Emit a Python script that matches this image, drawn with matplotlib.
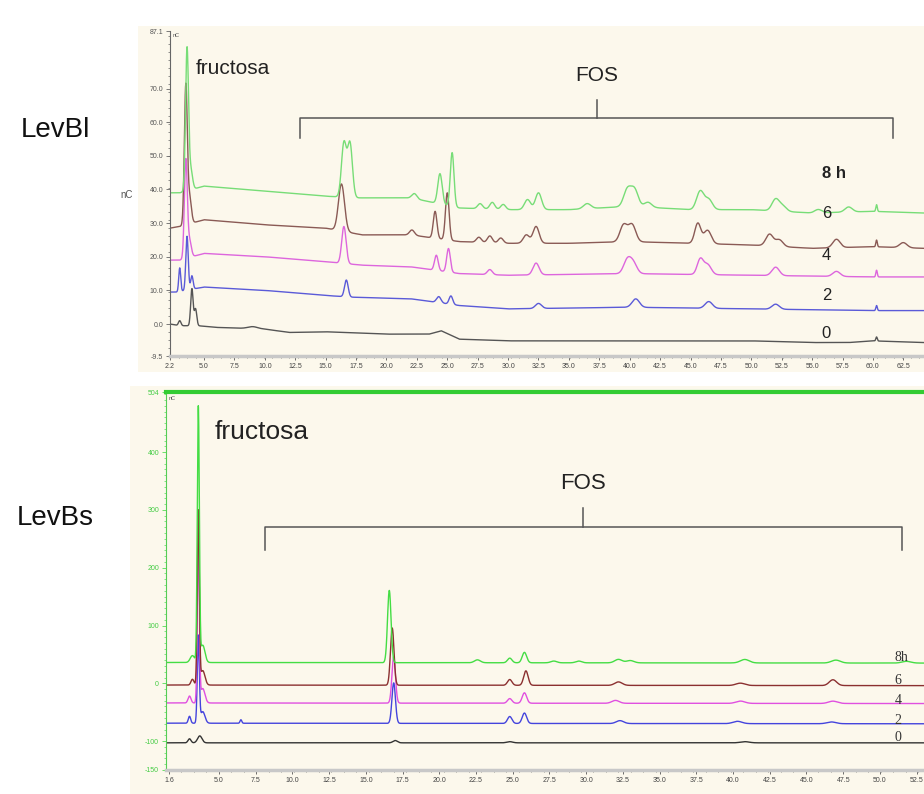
import matplotlib.pyplot as plt
import matplotlib.patches as mpatches
import numpy as np

plt.rcParams['font.family'] = ['Liberation Sans', 'DejaVu Sans']

CREAM = '#fcf8ec'

# ---------------- LevBl (top) ----------------
top_hours = ['0', '2', '4', '6', '8 h']
top_colors = ['#555555', '#5a5ad8', '#dd66dd', '#8a5a55', '#77dd77']

# baseline knots (time min, nC)
top_base_t = [
    [2.2, 3.0, 4.5, 6.0, 10.0, 12.0, 15.0, 20.0, 23.5, 24.5, 26.0, 30.0, 40.0, 50.0, 55.0, 58.0, 60.0, 64.2],
    [2.2, 2.7, 5.0, 10.0, 15.0, 17.0, 22.0, 26.0, 30.0, 40.0, 50.0, 60.0, 64.2],
    [2.2, 3.0, 5.0, 10.0, 15.0, 18.0, 22.0, 26.0, 30.0, 40.0, 50.0, 60.0, 64.2],
    [2.2, 3.0, 5.0, 10.0, 15.0, 18.0, 22.0, 26.0, 30.0, 35.0, 40.0, 45.0, 50.0, 55.0, 60.0, 64.2],
    [2.2, 3.0, 5.0, 10.0, 15.0, 17.5, 22.0, 26.0, 30.0, 35.0, 40.0, 45.0, 50.0, 55.0, 60.0, 64.2],
]
top_base_y = [
    [0.0, -0.5, -0.5, -1.0, -1.5, -2.5, -2.3, -3.0, -3.0, -2.0, -4.5, -5.0, -5.0, -5.0, -5.5, -5.5, -5.0, -5.5],
    [9.5, 9.5, 11.0, 10.0, 8.5, 8.0, 7.5, 5.5, 4.5, 5.0, 4.5, 4.0, 4.0],
    [19.0, 19.0, 21.0, 20.0, 18.5, 17.5, 17.0, 15.0, 14.5, 15.0, 14.5, 14.0, 14.0],
    [28.5, 29.0, 31.0, 29.5, 28.5, 26.5, 26.5, 24.5, 24.0, 24.0, 24.5, 24.0, 23.5, 22.5, 23.0, 22.5],
    [39.0, 39.0, 41.0, 39.5, 38.0, 37.5, 37.5, 34.5, 34.0, 34.0, 35.0, 34.0, 34.0, 33.0, 33.5, 33.0],
]
# peaks: retention time, height, width
top_peak_t = [
    [3.0, 4.0, 4.3, 9.0, 60.3],
    [3.0, 3.6, 4.0, 16.7, 24.3, 25.3, 32.5, 40.5, 46.5, 52.0, 60.3],
    [3.5, 3.8, 16.5, 24.1, 25.1, 28.5, 32.3, 39.8, 40.3, 45.8, 46.4, 52.0, 57.0, 60.3],
    [3.5, 3.8, 16.3, 22.1, 24.0, 25.0, 27.6, 28.5, 29.4, 31.5, 32.3, 39.5, 40.2, 45.6, 46.4, 51.5, 52.3, 57.0, 60.3, 62.5],
    [3.6, 3.9, 16.5, 17.0, 22.3, 24.4, 25.4, 27.7, 28.7, 29.6, 31.6, 32.5, 36.5, 39.8, 40.4, 41.5,
     45.8, 46.5, 52.0, 52.6, 55.5, 58.0, 60.3],
]
top_peak_h = [
    [1.5, 11.0, 5.0, 0.6, 1.2],
    [7.0, 16.0, 4.0, 5.0, 1.8, 2.5, 1.5, 2.5, 2.0, 1.5, 1.5],
    [29.0, 5.0, 11.0, 4.5, 7.0, 1.5, 3.5, 4.0, 3.0, 4.5, 3.0, 2.5, 1.5, 2.0],
    [41.0, 8.0, 14.0, 1.5, 8.0, 14.0, 1.5, 2.0, 1.5, 2.5, 5.0, 5.0, 5.0, 6.0, 4.0, 3.5, 2.0, 2.5, 2.0, 1.5],
    [42.0, 6.0, 16.0, 16.0, 1.5, 9.0, 16.0, 1.5, 2.0, 1.5, 3.0, 5.0, 1.5, 5.0, 5.0, 1.5,
     5.5, 3.0, 3.5, 1.5, 1.0, 1.5, 2.0],
]
top_peak_w = [
    [0.10, 0.10, 0.10, 0.4, 0.06],
    [0.08, 0.10, 0.10, 0.15, 0.18, 0.15, 0.25, 0.3, 0.3, 0.3, 0.06],
    [0.12, 0.15, 0.18, 0.15, 0.15, 0.2, 0.25, 0.3, 0.3, 0.25, 0.3, 0.3, 0.3, 0.06],
    [0.12, 0.15, 0.25, 0.2, 0.15, 0.15, 0.2, 0.2, 0.2, 0.25, 0.25, 0.3, 0.3, 0.25, 0.3, 0.3, 0.3, 0.3, 0.06, 0.3],
    [0.12, 0.15, 0.2, 0.2, 0.2, 0.18, 0.15, 0.2, 0.2, 0.2, 0.25, 0.25, 0.3, 0.3, 0.3, 0.3,
     0.3, 0.3, 0.3, 0.3, 0.3, 0.3, 0.06],
]
top_label_y = [-2.7, 8.6, 20.5, 33.0, 44.8]

# ---------------- LevBs (bottom) ----------------
bot_hours = ['0', '2', '4', '6', '8h']
bot_colors = ['#333333', '#4444dd', '#e050e0', '#8b3030', '#44dd44']
bot_base_t = [[1.4, 53.0]] * 5
bot_base_y = [[-103, -103], [-69, -70], [-34, -35], [-3, -4], [36, 35]]
bot_peak_t = [
    [3.0, 3.7, 17.0, 24.8, 40.8],
    [3.0, 3.6, 3.9, 6.5, 16.9, 24.8, 25.8, 32.3, 40.3, 46.7],
    [3.0, 3.6, 3.9, 16.9, 24.8, 25.8, 32.0, 40.5, 46.8],
    [3.2, 3.6, 3.9, 16.8, 24.8, 25.9, 32.2, 40.5, 46.8],
    [3.2, 3.6, 3.9, 16.6, 22.6, 24.8, 25.8, 27.8, 29.5, 32.2, 33.0, 40.8, 47.0, 51.8],
]
bot_peak_h = [
    [7, 12, 4, 2, 2],
    [12, 150, 20, 6, 70, 12, 18, 5, 4, 3],
    [12, 265, 25, 80, 8, 18, 5, 4, 4],
    [10, 300, 25, 99, 10, 25, 6, 4, 10],
    [12, 440, 30, 125, 5, 8, 18, 3, 3, 6, 4, 6, 5, 3],
]
bot_peak_w = [
    [0.1, 0.15, 0.15, 0.2, 0.3],
    [0.08, 0.07, 0.15, 0.06, 0.12, 0.15, 0.15, 0.25, 0.3, 0.3],
    [0.1, 0.07, 0.15, 0.12, 0.15, 0.15, 0.25, 0.3, 0.3],
    [0.1, 0.07, 0.15, 0.12, 0.15, 0.15, 0.25, 0.3, 0.25],
    [0.15, 0.07, 0.15, 0.12, 0.2, 0.15, 0.15, 0.2, 0.2, 0.25, 0.25, 0.3, 0.3, 0.3],
]
bot_label_y = [-94.6, -63.5, -29.0, 4.0, 45.5]

top_xticks = [2.2] + [2.5 * k for k in range(2, 26)]
top_yticks = [-9.5, 0, 10, 20, 30, 40, 50, 60, 70, 87.1]
bot_xticks = [1.6] + [2.5 * k for k in range(2, 22)]
bot_yticks = [-150, -100, 0, 100, 200, 300, 400, 504]


def trace(t, base_t, base_y, pk_t, pk_h, pk_w):
    y = np.interp(t, base_t, base_y)
    for c, h, w in zip(pk_t, pk_h, pk_w):
        y = y + h * np.exp(-0.5 * ((t - c) / w) ** 2)
    return y


def style_axes(ax, tick_color, label_color):
    ax.set_facecolor(CREAM)
    for s in ['top', 'right']:
        ax.spines[s].set_visible(False)
    ax.spines['left'].set_color('#666666')
    ax.spines['bottom'].set_color('#c8c8c8')
    ax.spines['bottom'].set_linewidth(2.5)
    ax.tick_params(axis='both', length=3, width=0.6, labelsize=5, color=tick_color,
                   labelcolor=label_color, pad=2)
    ax.tick_params(axis='x', colors='#555555', labelcolor='#444444')
    ax.minorticks_on()
    ax.tick_params(which='minor', length=1.5, width=0.5, color=tick_color)
    ax.tick_params(axis='x', which='minor', color='#555555')


def bracket(ax, x0, x1, y, drop, xc, up):
    ax.plot([x0, x0, x1, x1], [y - drop, y, y, y - drop], color='#555555', lw=1.1)
    ax.plot([xc, xc], [y, y + up], color='#555555', lw=1.1)


fig = plt.figure(figsize=(9.24, 7.94), dpi=100)
W, H = 924, 794

# cream screenshot backgrounds
fig.patches.append(mpatches.Rectangle((138 / W, 1 - 372 / H), 1, 346 / H, transform=fig.transFigure,
                                      facecolor=CREAM, edgecolor='none', zorder=-5))
fig.patches.append(mpatches.Rectangle((130 / W, 0), 1, 1 - 386 / H, transform=fig.transFigure,
                                      facecolor=CREAM, edgecolor='none', zorder=-5))

# top panel
ax1 = fig.add_axes([170 / W, 1 - 356 / H, 754 / W, 325 / H])
t1 = np.linspace(2.2, 64.2, 5000)
for i in range(5):
    y = trace(t1, top_base_t[i], top_base_y[i], top_peak_t[i], top_peak_h[i], top_peak_w[i])
    ax1.plot(t1, y, color=top_colors[i], lw=1.0)
    ax1.text(55.8, top_label_y[i], top_hours[i], fontsize=12, ha='left', va='center',
             color='#222222', fontweight='bold' if i == 4 else 'normal')
ax1.set_xlim(2.2, 64.2)
ax1.set_ylim(-9.5, 87.1)
ax1.set_xticks(top_xticks)
ax1.set_xticklabels([f'{v:.1f}' for v in top_xticks])
ax1.set_yticks(top_yticks)
ax1.set_yticklabels([f'{v:.1f}' for v in top_yticks])
style_axes(ax1, '#666666', '#555555')
ax1.text(4.3, 76, 'fructosa', fontsize=15, va='center', color='#222222')
ax1.text(37.3, 74, 'FOS', fontsize=15, ha='center', va='center', color='#222222')
bracket(ax1, 12.9, 61.66, 61.1, 5.9, 37.3, 5.4)
ax1.text(0.003, 0.995, 'nC', transform=ax1.transAxes, fontsize=4, va='top', color='#555555')
fig.text(120 / W, 1 - 195 / H, 'nC', fontsize=7, color='#555555', va='center')

# bottom panel
ax2 = fig.add_axes([166 / W, 1 - 770 / H, 758 / W, 378 / H])
t2 = np.linspace(1.4, 53.0, 5000)
for i in range(5):
    y = trace(t2, bot_base_t[i], bot_base_y[i], bot_peak_t[i], bot_peak_h[i], bot_peak_w[i])
    ax2.plot(t2, y, color=bot_colors[i], lw=1.0)
    ax2.text(51.0, bot_label_y[i], bot_hours[i], fontsize=10, ha='left', va='center',
             color='#333333', family=['Liberation Serif', 'DejaVu Serif'])
ax2.set_xlim(1.4, 53.0)
ax2.set_ylim(-150, 504)
ax2.set_xticks(bot_xticks)
ax2.set_xticklabels([f'{v:.1f}' for v in bot_xticks])
ax2.set_yticks(bot_yticks)
ax2.set_yticklabels([str(v) for v in bot_yticks])
style_axes(ax2, '#55dd55', '#44cc44')
ax2.spines['left'].set_color('#55cc55')
ax2.spines['top'].set_visible(True)
ax2.spines['top'].set_color('#33cc33')
ax2.spines['top'].set_linewidth(3)
ax2.text(4.7, 435, 'fructosa', fontsize=19, va='center', color='#222222')
ax2.text(29.8, 345, 'FOS', fontsize=16, ha='center', va='center', color='#222222')
bracket(ax2, 8.13, 51.5, 270, 39, 29.8, 33)
ax2.text(0.004, 0.99, 'nC', transform=ax2.transAxes, fontsize=4, va='top', color='#555555')

# sample names
fig.text(55 / W, 1 - 130 / H, 'LevBl', fontsize=20, ha='center', va='center', color='#111111')
fig.text(55 / W, 1 - 518 / H, 'LevBs', fontsize=20, ha='center', va='center', color='#111111')

plt.savefig('out.png', dpi=100)
plt.close()
